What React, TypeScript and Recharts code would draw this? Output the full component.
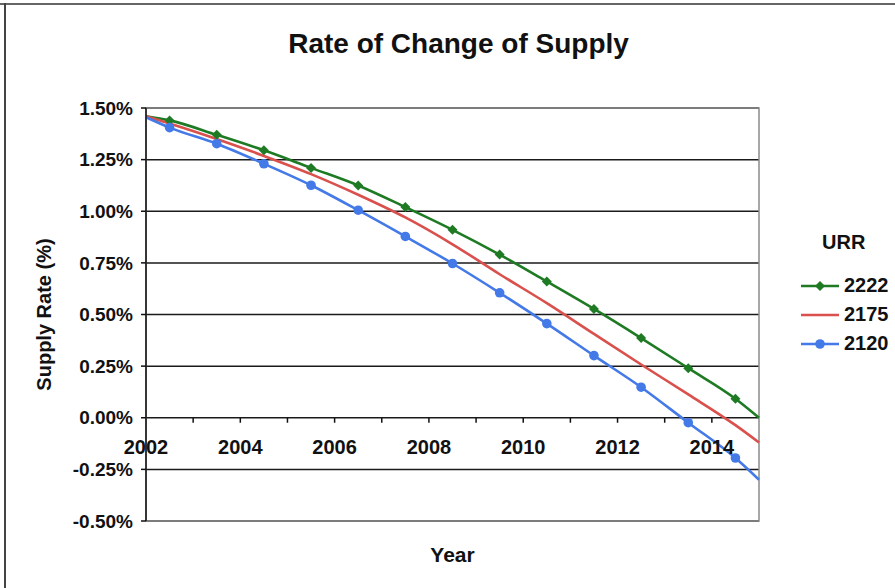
import React from "react";
import { LineChart, Line, XAxis, YAxis, CartesianGrid, Legend, ReferenceArea, Label } from "recharts";

// half-year points, plus the two plot edges (no markers there)
const years = [2002, 2002.5, 2003.5, 2004.5, 2005.5, 2006.5, 2007.5, 2008.5, 2009.5, 2010.5, 2011.5, 2012.5, 2013.5, 2014.5, 2015];
const urr2222 = [1.46, 1.44, 1.37, 1.295, 1.21, 1.125, 1.02, 0.91, 0.79, 0.66, 0.527, 0.386, 0.24, 0.092, 0.0];
const urr2175 = [1.46, 1.425, 1.35, 1.268, 1.18, 1.08, 0.97, 0.84, 0.695, 0.555, 0.406, 0.258, 0.113, -0.036, -0.12];
const urr2120 = [1.455, 1.405, 1.327, 1.23, 1.126, 1.005, 0.878, 0.747, 0.605, 0.456, 0.301, 0.148, -0.024, -0.195, -0.3];

const yearTicks = [2002, 2003, 2004, 2005, 2006, 2007, 2008, 2009, 2010, 2011, 2012, 2013, 2014, 2015];
const rateTicks = [-0.5, -0.25, 0, 0.25, 0.5, 0.75, 1, 1.25, 1.5];

const series = [
  { key: "urr2222", name: "2222", color: "#1E7B24", marker: "diamond" },
  { key: "urr2175", name: "2175", color: "#D9504C", marker: "none" },
  { key: "urr2120", name: "2120", color: "#4479E8", marker: "circle" },
];

const data = years.map((year, i) => ({
  year,
  urr2222: urr2222[i],
  urr2175: urr2175[i],
  urr2120: urr2120[i],
}));

const FONT = '"Liberation Sans", Arial, sans-serif';
const W = 895;
const H = 588;
const PLOT_TOP = 108;
const PLOT_BOTTOM = 521;
const Y_MIN = -0.5;
const Y_MAX = 1.5;
const LAST = years.length - 1;

function YearTick(props: any) {
  const { x, y, payload } = props;
  const yr = payload.value;
  // x axis crosses at 0%, so labels sit inside the plot
  const zeroY = y - ((PLOT_BOTTOM - PLOT_TOP) * (0 - Y_MIN)) / (Y_MAX - Y_MIN);
  return (
    <g>
      {yr > 2002 && yr < 2015 && (
        <line x1={x} x2={x} y1={zeroY} y2={zeroY + 5} stroke="#111" strokeWidth={1.5} />
      )}
      {yr % 2 === 0 && yr < 2015 && (
        <text x={x} y={zeroY + 36} textAnchor="middle" fontSize={20} fontWeight="bold" fontFamily={FONT} fill="#111">
          {yr}
        </text>
      )}
    </g>
  );
}

function makeDot(marker: string, color: string) {
  return (props: any) => {
    const { cx, cy, index } = props;
    if (index === 0 || index === LAST || marker === "none") return <g key={`d${index}`} />;
    if (marker === "diamond") {
      const r = 5;
      return (
        <path key={`d${index}`} d={`M${cx},${cy - r} L${cx + r},${cy} L${cx},${cy + r} L${cx - r},${cy} Z`} fill={color} />
      );
    }
    return <circle key={`d${index}`} cx={cx} cy={cy} r={4.8} fill={color} />;
  };
}

function renderLegend() {
  return (
    <div style={{ fontFamily: FONT, fontWeight: "bold", fontSize: 20, color: "#111" }}>
      <div style={{ paddingLeft: 22, height: 30, lineHeight: "30px", marginBottom: 14 }}>URR</div>
      {series.map((s) => (
        <div key={s.key} style={{ display: "flex", alignItems: "center", height: 29 }}>
          <svg width={40} height={14} style={{ marginRight: 4 }}>
            <line x1={1} x2={39} y1={7} y2={7} stroke={s.color} strokeWidth={2.5} />
            {s.marker === "diamond" && <path d="M20,2 L25,7 L20,12 L15,7 Z" fill={s.color} />}
            {s.marker === "circle" && <circle cx={20} cy={7} r={4.8} fill={s.color} />}
          </svg>
          <span>{s.name}</span>
        </div>
      ))}
    </div>
  );
}

export default function App() {
  return (
    <div style={{ position: "absolute", left: 0, top: 0, width: W, height: H, background: "#fff", overflow: "hidden" }}>
      <div style={{ position: "absolute", left: 0, top: 3, width: W, height: 2, background: "#666" }} />
      <div style={{ position: "absolute", left: 4, top: 3, width: 2, height: H, background: "#444" }} />
      <div
        style={{
          position: "absolute",
          left: 0,
          width: W,
          top: 28,
          textAlign: "center",
          paddingLeft: 22,
          boxSizing: "border-box",
          fontFamily: FONT,
          fontWeight: "bold",
          fontSize: 28,
          color: "#111",
        }}
      >
        Rate of Change of Supply
      </div>
      <LineChart width={W} height={H} data={data} margin={{ top: PLOT_TOP, right: W - 759, bottom: 0, left: 0 }}>
        <CartesianGrid vertical={false} stroke="#1a1a1a" strokeWidth={1.5} />
        <ReferenceArea x1={2002} x2={2015} y1={Y_MIN} y2={Y_MAX} fill="none" stroke="#8a8a8a" strokeWidth={1.5} />
        <XAxis
          dataKey="year"
          type="number"
          domain={[2002, 2015]}
          ticks={yearTicks}
          interval={0}
          height={H - PLOT_BOTTOM}
          axisLine={false}
          tickLine={false}
          tickSize={0}
          tickMargin={0}
          tick={<YearTick />}
        >
          <Label value="Year" position="insideBottom" offset={26} fontSize={21} fontWeight="bold" fontFamily={FONT} fill="#111" />
        </XAxis>
        <YAxis
          type="number"
          domain={[Y_MIN, Y_MAX]}
          ticks={rateTicks}
          interval={0}
          width={146}
          axisLine={{ stroke: "#111", strokeWidth: 1.5 }}
          tickLine={{ stroke: "#111", strokeWidth: 1.5 }}
          tickSize={5}
          tickMargin={8}
          tickFormatter={(v: number) => `${v.toFixed(2)}%`}
          tick={{ fontSize: 19, fontWeight: "bold", fontFamily: FONT, fill: "#111" }}
        >
          <Label
            value="Supply Rate (%)"
            angle={-90}
            position="insideLeft"
            offset={44}
            fontSize={20}
            fontWeight="bold"
            fontFamily={FONT}
            fill="#111"
            style={{ textAnchor: "middle" }}
          />
        </YAxis>
        <Legend
          layout="vertical"
          align="center"
          verticalAlign="middle"
          content={renderLegend}
          wrapperStyle={{ left: 800, top: 227, width: 95 }}
        />
        {series.map((s) => (
          <Line
            key={s.key}
            dataKey={s.key}
            name={s.name}
            type="monotone"
            stroke={s.color}
            strokeWidth={2.6}
            dot={makeDot(s.marker, s.color)}
            activeDot={false}
            isAnimationActive={false}
          />
        ))}
      </LineChart>
    </div>
  );
}
